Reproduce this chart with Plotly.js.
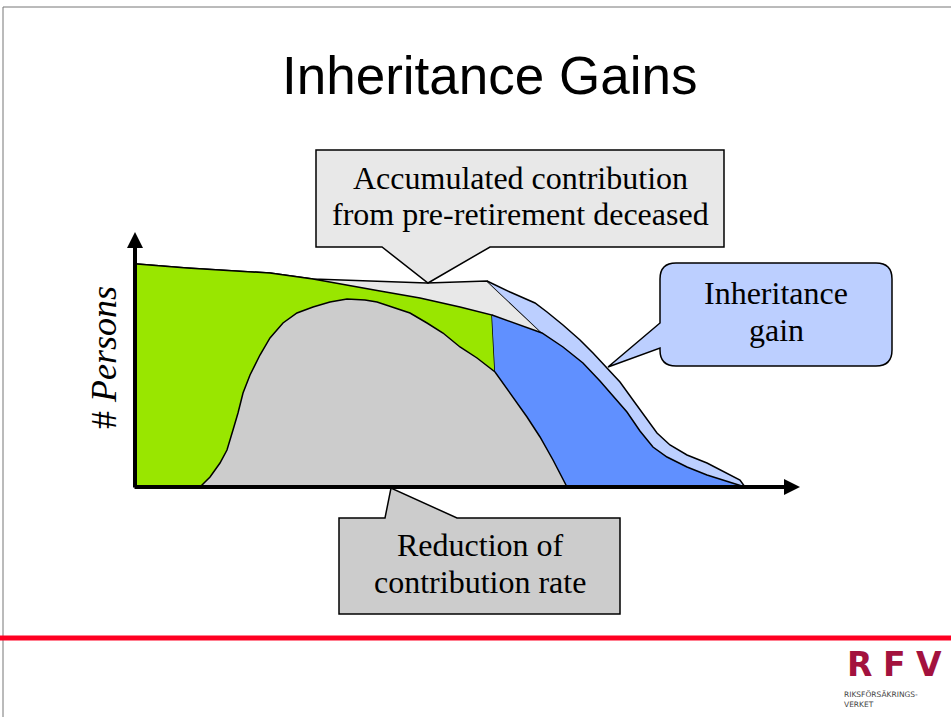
<!DOCTYPE html>
<html>
<head>
<meta charset="utf-8">
<script src="https://cdn.plot.ly/plotly-3.0.1.min.js"></script>
<style>
  html, body { margin: 0; padding: 0; background: #fff; }
  #chart { width: 951px; height: 717px; }
</style>
</head>
<body>
<div id="chart"></div>
<script>
// Schematic population by age (persons, arbitrary units)

// Accumulated contribution from pre-retirement deceased (light grey wedge)
var wedgeAge     = [20, 26.58, 37.5, 43.16, 50.66, 58.16, 66.05, 73.29, 73.29, 20];
var wedgePersons = [100, 98.21, 95.96, 93.27, 92.38, 91.48, 92.38, 69.06, 0, 0];

// Inheritance gain (light blue band)
var gainAge     = [66.05, 69.08, 72.37, 73.95, 76.05, 78.29, 80.0, 81.84, 83.55, 85.26, 87.11, 88.42, 90.13, 92.37, 95.0, 97.63, 99.34, 100, 73.29, 73.29];
var gainPersons = [92.38, 87.44, 82.51, 78.48, 72.65, 65.92, 60.09, 53.36, 47.09, 39.01, 30.04, 24.22, 18.83, 14.35, 10.76, 6.28, 3.14, 0, 0, 69.06];

// Working-age contributors (green)
var activeAge     = [20, 26.58, 37.5, 43.16, 51.97, 57.24, 62.5, 66.71, 67.11, 67.11, 20];
var activePersons = [100, 98.21, 95.96, 93.27, 87.89, 84.75, 80.72, 77.13, 51.57, 0, 0];

// Pensioners (blue)
var retiredAge     = [66.71, 70.0, 73.29, 76.05, 78.68, 80.92, 82.63, 84.47, 86.18, 87.89, 89.74, 92.37, 95.0, 97.63, 100, 67.11, 67.11];
var retiredPersons = [77.13, 73.09, 69.06, 62.78, 55.61, 47.53, 40.81, 33.63, 25.11, 17.94, 13.45, 8.97, 5.38, 2.69, 0, 0, 51.57];

// Reduction of contribution rate (grey hump)
var reductionAge     = [28.29, 29.61, 30.92, 31.84, 32.63, 33.29, 33.95, 34.87, 36.18, 37.5, 39.21, 41.05, 43.16, 45.39, 47.63, 50.0,
                        51.58, 53.68, 55.92, 58.16, 60.26, 62.5, 64.74, 67.11, 69.08, 71.32, 73.03, 74.74, 76.58];
var reductionPersons = [0, 4.48, 10.76, 16.59, 25.56, 33.18, 42.15, 50.22, 59.19, 66.82, 73.54, 78.03, 80.72, 82.96, 84.30, 83.86,
                        82.96, 80.72, 78.03, 73.54, 69.06, 62.78, 57.85, 51.57, 42.15, 31.39, 22.42, 12.11, 0];

var W = 951, H = 717;

// where the axes sit on the page (pixels)
var x20 = 137, x100 = 745, y0 = 487, y100 = 264;
var xs = (x100 - x20) / 80, ys = (y0 - y100) / 100;
function ageAt(p) { return 20 + (p - x20) / xs; }
function persAt(p) { return (y0 - p) / ys; }

// page pixels -> paper coords, for the callouts
function P(x, y) { return (x / W).toFixed(5) + ',' + (1 - y / H).toFixed(5); }
function pathOf(pts) {
  return 'M' + pts.map(function (p) { return P(p[0], p[1]); }).join(' L') + ' Z';
}

function area(xv, yv, color) {
  return {
    x: xv, y: yv, type: 'scatter', mode: 'lines', fill: 'toself',
    fillcolor: color, line: {color: '#000', width: 1.5}, hoverinfo: 'skip'
  };
}

var data = [
  area(wedgeAge, wedgePersons, '#e8e8e8'),
  area(gainAge, gainPersons, '#bccfff'),
  area(activeAge, activePersons, '#99e600'),
  area(retiredAge, retiredPersons, '#6090ff'),
  area(reductionAge, reductionPersons, '#cccccc')
];

var serif = 'Liberation Serif, Times New Roman, serif';
var logoRed = '#a3123e';

function label(text, x, y, size, extra) {
  var a = {
    xref: 'paper', yref: 'paper', x: x / W, y: 1 - y / H,
    xanchor: 'center', yanchor: 'middle', showarrow: false,
    text: text, font: {family: serif, size: size, color: '#000'}
  };
  for (var k in extra) a[k] = extra[k];
  return a;
}

var annotations = [
  // axes with arrow heads
  {xref: 'x', yref: 'y', axref: 'x', ayref: 'y', x: ageAt(800), y: 0, ax: ageAt(133), ay: 0,
   text: '', showarrow: true, arrowhead: 2, arrowsize: 0.8, arrowwidth: 4, arrowcolor: '#000'},
  {xref: 'x', yref: 'y', axref: 'x', ayref: 'y', x: ageAt(135), y: persAt(232), ax: ageAt(135), ay: persAt(489),
   text: '', showarrow: true, arrowhead: 2, arrowsize: 0.8, arrowwidth: 4, arrowcolor: '#000'},

  label('Inheritance Gains', 489, 75, 53, {font: {family: 'Liberation Sans, Arial, sans-serif', size: 53, color: '#000'}}),

  label('# <i>Persons</i>', 104, 358, 36, {textangle: -90}),

  label('Accumulated contribution', 520, 178, 32),
  label('from pre-retirement deceased', 520, 214, 32),
  label('Inheritance', 776, 293, 32),
  label('gain', 776, 330, 32),
  label('Reduction of', 480, 545, 32),
  label('contribution rate', 480, 582, 32),

  // RFV logo
  label('<b>R</b>', 859, 664, 33, {font: {family: 'DejaVu Sans', size: 33, color: logoRed}}),
  label('<b>F</b>', 894, 664, 33, {font: {family: 'DejaVu Sans', size: 33, color: logoRed}}),
  label('<b>V</b>', 929, 664, 33, {font: {family: 'DejaVu Sans', size: 33, color: logoRed}}),
  label('RIKSFÖRSÄKRINGS-', 842, 694, 7, {xanchor: 'left', font: {family: 'DejaVu Sans', size: 7.5, color: '#444'}}),
  label('VERKET', 842, 704, 7, {xanchor: 'left', font: {family: 'DejaVu Sans', size: 7.5, color: '#444'}})
];

var shapes = [
  // slide frame
  {type: 'line', xref: 'paper', yref: 'paper', x0: 3 / W, x1: 1, y0: 1 - 7 / H, y1: 1 - 7 / H, line: {color: '#777', width: 1}},
  {type: 'line', xref: 'paper', yref: 'paper', x0: 3 / W, x1: 3 / W, y0: 1 - 7 / H, y1: 0, line: {color: '#777', width: 1}},
  // red footer line
  {type: 'line', xref: 'paper', yref: 'paper', x0: 0, x1: 1, y0: 1 - 638 / H, y1: 1 - 638 / H, line: {color: '#ff0022', width: 5}},

  // callouts
  {type: 'path', xref: 'paper', yref: 'paper', fillcolor: '#e8e8e8', line: {color: '#000', width: 1.5},
   path: pathOf([[316, 150], [724, 150], [724, 247], [490, 247], [428, 283], [382, 247], [316, 247]])},
  {type: 'path', xref: 'paper', yref: 'paper', fillcolor: '#cccccc', line: {color: '#000', width: 1.5},
   path: pathOf([[339, 518], [385, 518], [391, 488], [457, 518], [620, 518], [620, 614], [339, 614]])},
  {type: 'path', xref: 'paper', yref: 'paper', fillcolor: '#bccfff', line: {color: '#000', width: 1.5},
   path: 'M' + P(676, 263) + ' L' + P(876, 263) + ' Q' + P(892, 263) + ' ' + P(892, 279) +
         ' L' + P(892, 350) + ' Q' + P(892, 366) + ' ' + P(876, 366) +
         ' L' + P(676, 366) + ' Q' + P(660, 366) + ' ' + P(660, 350) +
         ' L' + P(660, 348) + ' L' + P(608, 367) + ' L' + P(660, 323) +
         ' L' + P(660, 279) + ' Q' + P(660, 263) + ' ' + P(676, 263) + ' Z'}
];

var layout = {
  width: W, height: H,
  margin: {l: 0, r: 0, t: 0, b: 0},
  paper_bgcolor: '#fff', plot_bgcolor: '#fff',
  showlegend: false, hovermode: false,
  xaxis: {range: [ageAt(0), ageAt(W)], visible: false, fixedrange: true},
  yaxis: {range: [persAt(H), persAt(0)], visible: false, fixedrange: true},
  annotations: annotations,
  shapes: shapes
};

Plotly.newPlot('chart', data, layout, {displayModeBar: false, staticPlot: true});
</script>
</body>
</html>
